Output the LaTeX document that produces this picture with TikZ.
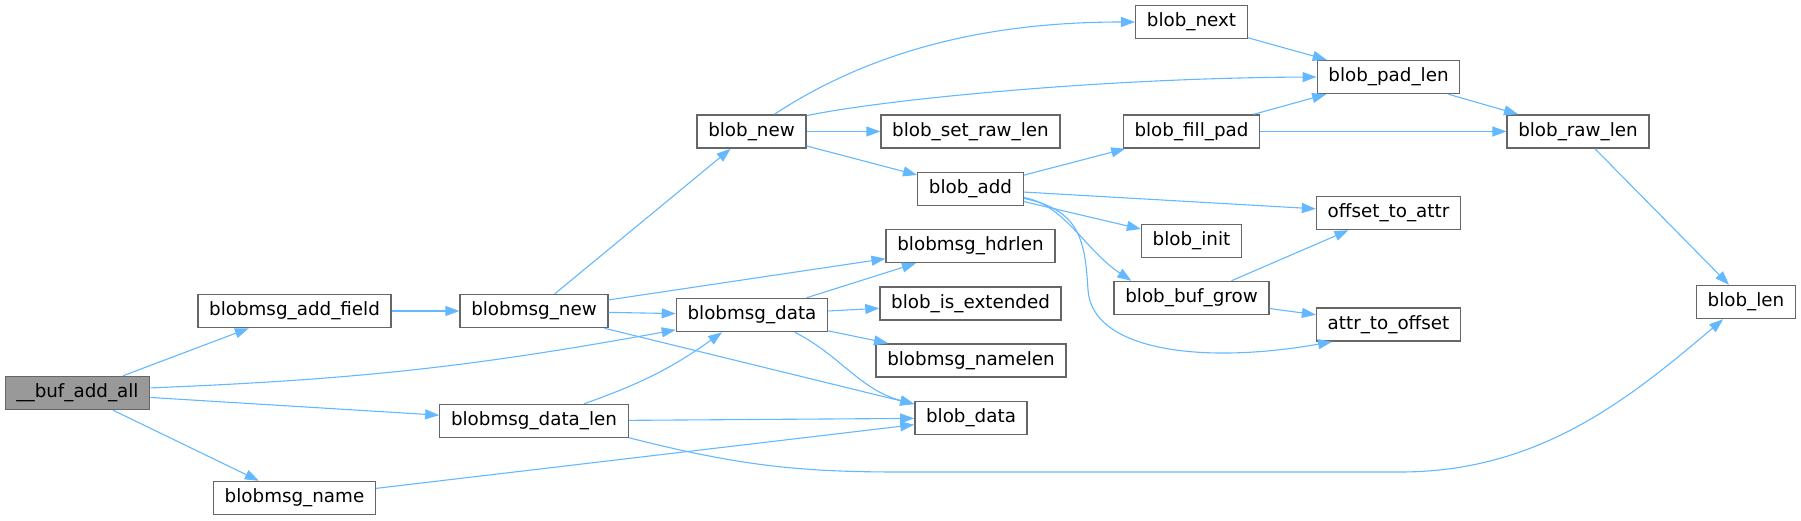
\documentclass[tikz,border=0pt]{standalone}
\usepackage{fontspec}
\setmainfont{DejaVu Sans}
\usepackage{xcolor}
\usepackage{tikz}
\usetikzlibrary{arrows.meta}
\definecolor{cEdge}{HTML}{63B8FF}
\definecolor{cFrame}{HTML}{666666}
\definecolor{cRoot}{HTML}{999999}
\tikzset{
  fbox/.style={draw=cFrame,fill=#1,line width=0.65pt,inner xsep=5.6pt,inner ysep=0pt,minimum height=16.6pt,font=\fontsize{9.15pt}{11pt}\selectfont,text=black},
  fbox/.default=white,
  call/.style={-{Triangle[length=7pt,width=5pt]},line width=0.55pt,color=cEdge},
}

\begin{document}
\begin{tikzpicture}[x=0.5pt,y=-0.5pt]
  \useasboundingbox (0,0) rectangle (1801,520);
  % callers on the left
  \node[fbox=cRoot] (bufall) at (77.5,393) {\_\_buf\_add\_all};
  \node[fbox] (addfield) at (294.5,311) {blobmsg\_add\_field};
  \node[fbox] (bmname) at (294.5,498) {blobmsg\_name};
  \node[fbox] (bmnew) at (534,311) {blobmsg\_new};
  \node[fbox] (bmdatalen) at (534,421) {blobmsg\_data\_len};
  \node[fbox] (blobnew) at (751.5,131.5) {blob\_new};
  \node[fbox] (bmdata) at (752,315) {blobmsg\_data};
  % middle column
  \node[fbox] (setrawlen) at (970.5,131.5) {blob\_set\_raw\_len};
  \node[fbox] (blobadd) at (970.5,189) {blob\_add};
  \node[fbox] (hdrlen) at (970.5,246) {blobmsg\_hdrlen};
  \node[fbox] (isext) at (970.5,303.5) {blob\_is\_extended};
  \node[fbox] (namelen) at (971,360.5) {blobmsg\_namelen};
  \node[fbox] (blobdata) at (971,418) {blob\_data};
  \node[fbox] (blobnext) at (1191.5,22) {blob\_next};
  \node[fbox] (fillpad) at (1191.5,131.5) {blob\_fill\_pad};
  \node[fbox] (blobinit) at (1191.5,241) {blob\_init};
  \node[fbox] (bufgrow) at (1191.5,298) {blob\_buf\_grow};
  % right side
  \node[fbox] (padlen) at (1388.5,77) {blob\_pad\_len};
  \node[fbox] (offattr) at (1388.5,213) {offset\_to\_attr};
  \node[fbox] (attroff) at (1388.5,324.5) {attr\_to\_offset};
  \node[fbox] (rawlen) at (1578,131.5) {blob\_raw\_len};
  \node[fbox] (bloblen) at (1746,302) {blob\_len};

  \draw[call] (bufall) -- (addfield);
  \draw[call] (bufall.4) to[bend right=4] (bmdata.191);
  \draw[call] (bufall) -- (bmdatalen);
  \draw[call] (bufall) -- (bmname);
  \draw[call] (addfield) -- (bmnew);
  \draw[call] (bmnew) -- (blobnew);
  \draw[call] (bmnew) -- (hdrlen);
  \draw[call] (bmnew) -- (bmdata);
  \draw[call] (bmnew) -- (blobdata);
  \draw[call] (bmdatalen.19) to[bend right=8] (bmdata.210);
  \draw[call] (bmdatalen) -- (blobdata);
  \draw[call] (bmdatalen.-10) .. controls (740,466) and (800,472) .. (900,472) -- (1400,472)
    .. controls (1540,472) and (1630,398) .. (bloblen.-143);
  \draw[call] (bmname) -- (blobdata);
  \draw[call] (blobnew.37) .. controls (880,45) and (1000,22) .. (blobnext.west);
  \draw[call] (blobnew.16) .. controls (880,100) and (1100,78) .. (padlen.west);
  \draw[call] (blobnew) -- (setrawlen);
  \draw[call] (blobnew) -- (blobadd);
  \draw[call] (bmdata) -- (hdrlen);
  \draw[call] (bmdata) -- (isext);
  \draw[call] (bmdata) -- (namelen);
  \draw[call] (bmdata.-22.5) .. controls (840,355) and (860,390) .. (blobdata.166);
  \draw[call] (blobadd) -- (fillpad);
  \draw[call] (blobadd) -- (offattr);
  \draw[call] (blobadd) -- (blobinit);
  \draw[call] (blobadd.-9) .. controls (1065,205) and (1085,250) .. (bufgrow.164);
  \draw[call] (blobadd.-10) .. controls (1080,210) and (1085,240) .. (1088,290)
    .. controls (1092,350) and (1200,365) .. (attroff.197);
  \draw[call] (blobnext) -- (padlen);
  \draw[call] (fillpad) -- (padlen);
  \draw[call] (fillpad) -- (rawlen);
  \draw[call] (padlen) -- (rawlen);
  \draw[call] (bufgrow) -- (offattr);
  \draw[call] (bufgrow) -- (attroff);
  \draw[call] (rawlen) -- (bloblen);
\end{tikzpicture}
\end{document}
